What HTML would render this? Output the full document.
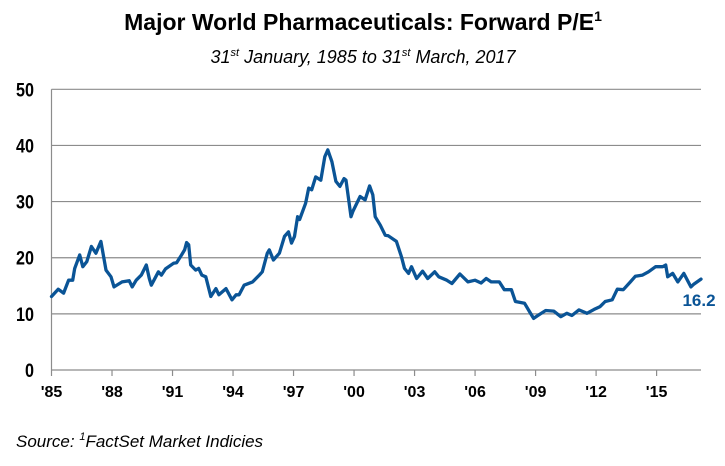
<!DOCTYPE html>
<html><head><meta charset="utf-8"><style>
body{margin:0;background:#fff;}
svg{display:block;font-family:"Liberation Sans",Arial,sans-serif;}
</style></head><body>
<svg id="chart" width="725" height="466" viewBox="0 0 725 466">
<text x="363" y="30" text-anchor="middle" font-size="23" font-weight="bold" fill="#000">Major World Pharmaceuticals: Forward P/E<tspan font-size="14" dy="-9">1</tspan></text>
<text x="363" y="63" text-anchor="middle" font-size="18" font-style="italic" fill="#000">31<tspan font-size="11" dy="-7">st</tspan><tspan dy="7"> January, 1985 to 31</tspan><tspan font-size="11" dy="-7">st</tspan><tspan dy="7"> March, 2017</tspan></text>
<g id="grid"></g><g id="axes"></g><g id="series"></g>
<text x="699" y="306" text-anchor="middle" font-size="17" font-weight="bold" fill="#0a5496">16.2</text>
<text x="16" y="447" font-size="17" font-style="italic" fill="#000">Source: <tspan font-size="11" dy="-7">1</tspan><tspan dy="7">FactSet Market Indicies</tspan></text>
</svg>
<script>
const yTicks=[0,10,20,30,40,50];
const xTickYears=[1985,1988,1991,1994,1997,2000,2003,2006,2009,2012,2015];
const xTickLabels=["'85","'88","'91","'94","'97","'00","'03","'06","'09","'12","'15"];
const years=[1985.0,1985.33,1985.6,1985.85,1986.05,1986.15,1986.4,1986.55,1986.75,1986.98,1987.2,1987.45,1987.7,1987.95,1988.1,1988.5,1988.85,1989.0,1989.2,1989.45,1989.7,1989.85,1989.95,1990.3,1990.45,1990.65,1991.05,1991.2,1991.45,1991.6,1991.7,1991.8,1991.9,1992.15,1992.3,1992.45,1992.65,1992.9,1993.15,1993.3,1993.65,1993.95,1994.15,1994.3,1994.55,1994.97,1995.3,1995.45,1995.7,1995.8,1996.0,1996.3,1996.55,1996.75,1996.9,1997.05,1997.2,1997.3,1997.6,1997.75,1997.9,1998.1,1998.35,1998.55,1998.7,1998.9,1999.1,1999.3,1999.5,1999.6,1999.85,1999.95,2000.3,2000.55,2000.77,2000.93,2001.05,2001.3,2001.55,2001.7,2002.1,2002.35,2002.5,2002.7,2002.85,2003.1,2003.4,2003.65,2004.0,2004.2,2004.6,2004.85,2005.25,2005.65,2006.0,2006.3,2006.55,2006.8,2007.2,2007.45,2007.8,2008.0,2008.45,2008.7,2008.9,2009.15,2009.5,2009.9,2010.25,2010.55,2010.8,2011.15,2011.55,2011.9,2012.2,2012.45,2012.8,2013.05,2013.35,2013.7,2013.95,2014.3,2014.6,2014.95,2015.3,2015.45,2015.55,2015.8,2016.05,2016.35,2016.7,2016.85,2017.2];
const pe=[13.1,14.4,13.7,16.0,16.0,18.1,20.5,18.4,19.3,22.0,20.8,22.9,17.8,16.6,14.8,15.7,15.9,14.8,16.0,16.9,18.7,16.3,15.1,17.5,16.9,18.0,19.0,19.1,20.5,21.4,22.7,22.3,18.7,17.8,18.1,16.9,16.6,13.1,14.5,13.4,14.5,12.5,13.4,13.4,15.1,15.7,16.9,17.5,20.8,21.4,19.6,20.8,23.8,24.6,22.6,23.8,27.3,26.8,29.7,32.4,32.1,34.4,33.8,38.0,39.2,37.1,33.6,32.7,34.1,33.8,27.3,28.3,30.9,30.3,32.8,31.2,27.3,25.8,24.0,23.9,22.9,20.2,18.1,17.2,18.4,16.3,17.6,16.3,17.5,16.6,16.0,15.4,17.1,15.7,16.0,15.5,16.3,15.7,15.7,14.3,14.3,12.2,11.9,10.4,9.2,9.8,10.6,10.5,9.5,10.1,9.7,10.7,10.1,10.8,11.3,12.2,12.5,14.4,14.3,15.7,16.7,16.9,17.5,18.4,18.4,18.7,16.6,17.2,15.7,17.2,14.8,15.3,16.2];
const NS="http://www.w3.org/2000/svg";
const X0=51.5,X1=701,Y0=370,Y1=89.3;
function xs(yr){return X0+(yr-1985.0)*20.17;}
function ys(v){return Y0-(v/50)*(Y0-Y1);}
const grid=document.getElementById('grid'),axes=document.getElementById('axes'),ser=document.getElementById('series');
function mk(tag,attrs,parent){const e=document.createElementNS(NS,tag);for(const k in attrs)e.setAttribute(k,attrs[k]);parent.appendChild(e);return e;}
yTicks.forEach(v=>{
 const l=mk('line',{x1:X0,x2:X1,y1:ys(v),y2:ys(v),stroke:'#8c8c8c','stroke-width':1.2},grid);
 
 
 const t=mk('text',{x:34,y:ys(v)+7,'text-anchor':'end','font-size':19,'font-weight':'bold',fill:'#000',transform:'translate(34,0) scale(0.85,1) translate(-34,0)'},axes);
 t.textContent=v;
 
 
});
const ax=mk('line',{x1:X0,x2:X0,y1:Y1,y2:Y0,stroke:'#8c8c8c','stroke-width':1.2},axes);


xTickYears.forEach((yr,i)=>{
 const x=xs(yr);
 const tk=mk('line',{x1:x,x2:x,y1:Y0,y2:Y0+6,stroke:'#8c8c8c','stroke-width':1.2},axes);
 
 
 const t=mk('text',{x:x,y:397,'text-anchor':'middle','font-size':16,'font-weight':'bold',fill:'#000'},axes);
 t.textContent=xTickLabels[i];
 
 
});
const d=years.map((yr,i)=>(i?'L':'M')+xs(yr).toFixed(1)+','+ys(pe[i]).toFixed(1)).join(' ');
const p=mk('path',{d:d,fill:'none',stroke:'#0a5496','stroke-width':3.3,'stroke-linejoin':'round','stroke-linecap':'round'},ser);


</script>
</body></html>
